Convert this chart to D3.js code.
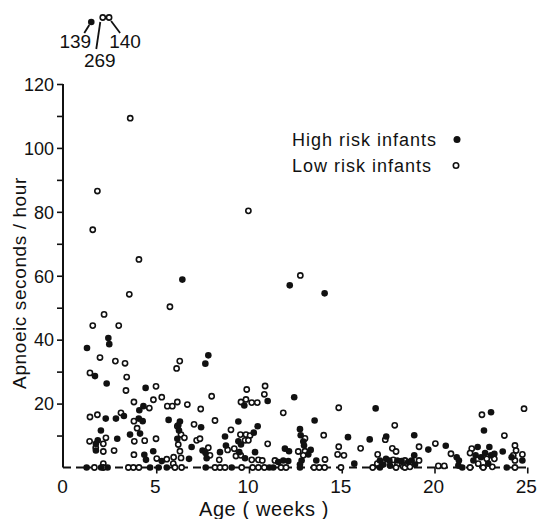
<!DOCTYPE html>
<html><head><meta charset="utf-8">
<script src="https://cdn.jsdelivr.net/npm/d3@7"></script>
<style>
html,body{margin:0;padding:0;background:#fff;}
text{font-family:"Liberation Sans",Arial,sans-serif;fill:#111;}
</style></head>
<body>
<svg id="chart" width="537" height="519"></svg>
<script>
// Age (weeks), apnoeic seconds/hour
const highRisk = [
[6.38,58.8],[12.17,57.0],[14.05,54.5],[2.39,40.5],[2.44,38.6],[1.24,37.4],[7.78,35.1],[7.62,32.5],
[1.67,28.6],[2.30,26.3],[4.40,24.9],[4.28,19.2],[4.06,17.9],[3.23,16.1],[2.25,15.3],[2.80,15.3],[4.03,15.3],[4.24,14.5],[5.64,14.9],[1.99,11.6],[4.10,10.6],[3.56,10.3],[1.82,8.5],[1.72,7.4],[2.87,9.0],[6.11,9.0],[1.72,5.3],[4.33,4.0],[4.81,5.1],[4.42,2.4],[5.27,2.0],
[1.22,0],[2.0,0],[2.35,0],[4.64,0],[5.10,0],[5.54,0],
[12.41,22.0],[9.72,19.4],[10.98,20.8],[9.40,14.4],[6.25,14.4],[6.16,13.2],[7.39,12.6],[10.44,12.9],[6.20,11.6],[10.23,10.9],[8.68,9.7],[9.40,8.2],[6.88,6.4],[8.73,6.9],[9.54,7.2],[11.91,5.9],[12.13,5.1],[7.47,5.3],[7.63,4.5],[8.41,4.8],[9.45,4.8],[10.30,4.8],[7.69,2.9],[6.74,2.7],[9.76,2.9],[11.55,1.7],[11.82,2.2],[12.09,2.0],
[7.64,0],[9.04,0],[11.07,0],[11.28,0],
[16.80,18.5],[13.51,14.7],[12.72,12.0],[12.76,10.1],[15.31,9.5],[17.37,9.7],[16.48,8.8],[12.90,8.1],[12.94,6.9],[13.30,5.5],[13.17,4.1],[13.60,2.2],[12.81,2.2],[12.72,0.9],[15.65,1.2],[17.03,2.2],[17.36,2.7],[17.54,2.2],[17.97,2.2],[18.2,2.0],[17.21,0.9],[17.57,0.6],[18.56,1.7],
[12.72,0],[17.03,0],
[23.02,17.3],[22.64,11.6],[18.88,10.1],[20.58,6.8],[19.64,5.6],[21.17,3.2],[21.29,2.2],[21.26,0.6],[23.65,5.0],[24.13,3.2],[24.71,2.2],[22.30,6.4],[22.93,6.4],[22.19,3.8],[22.48,3.2],[22.70,4.5],[23.02,3.8],[23.20,4.3],[22.07,2.2],[22.87,1.2],[18.88,3.8],[18.74,2.2],[18.92,0.9],
[21.47,0],[23.87,0]
];
const lowRisk = [
[3.57,109.3],[1.8,86.5],[1.55,74.4],[4.04,65.1],[3.52,54.2],[5.71,50.3],[2.16,47.9],[1.55,44.4],[2.95,44.4],[1.94,34.4],[2.77,33.3],[3.29,32.6],[6.24,33.3],[6.07,31.0],[12.74,60.1],[9.94,80.3],[10.84,25.5],[9.85,24.4],
[1.40,29.6],[3.38,28.3],[3.34,24.1],[4.96,25.4],[3.77,20.5],[4.82,21.2],[5.27,22.0],[4.60,18.6],[5.57,19.2],[5.84,19.2],[6.11,20.5],[3.07,17.1],[1.40,15.8],[1.80,16.5],[3.77,14.5],[6.11,12.9],[3.94,12.3],[1.38,8.2],[2.26,9.3],[2.12,7.4],[3.79,8.2],[4.35,8.4],[4.96,9.0],[1.71,6.2],[2.12,5.0],[2.70,5.3],[3.77,4.0],[5.0,2.8],[5.54,2.6],[5.91,3.2],[2.12,1.2],[5.89,1.2],
[1.64,0],[2.12,0],[3.47,0],[3.74,0],[4.04,0],[5.98,0],
[10.80,22.9],[7.96,22.3],[6.65,19.7],[7.37,18.3],[9.54,20.5],[9.81,21.3],[10.12,20.3],[10.42,20.3],[11.82,17.1],[8.14,14.7],[7.01,13.5],[6.31,10.3],[9.0,11.8],[9.51,10.3],[9.81,10.3],[10.03,10.0],[6.49,9.3],[7.15,8.5],[7.33,9.0],[9.76,8.5],[9.94,8.5],[10.98,7.4],[7.78,6.2],[8.82,5.5],[9.18,5.9],[6.16,7.2],[6.25,5.1],[7.87,3.8],[8.37,2.4],[6.31,3.0],[9.27,3.6],[9.53,3.8],[10.12,2.4],[10.48,2.4],[10.69,2.2],[11.37,2.2],
[6.34,0],[8.14,0],[8.41,0],[8.68,0],[9.58,0],[10.17,0],[10.48,0],[10.80,0],[11.70,0],[11.97,0],
[14.81,18.7],[14.0,10.1],[17.83,13.2],[17.32,8.7],[12.99,9.1],[14.81,6.5],[12.63,5.0],[12.99,5.1],[12.90,3.8],[15.99,6.0],[14.75,4.1],[15.09,3.8],[17.70,6.0],[17.90,5.0],[16.91,4.1],[14.07,2.5],[17.75,2.4],[18.38,2.2],[16.89,1.2],[17.97,0.9],[18.29,0.3],
[13.48,0],[13.76,0],[14.05,0],[14.93,0],[16.64,0],[17.9,0],[18.38,0],
[24.80,18.4],[22.53,16.5],[23.74,10.0],[20.02,7.5],[19.14,6.5],[20.86,4.3],[24.31,6.9],[24.37,5.3],[24.22,3.8],[24.71,4.1],[24.31,2.2],[21.98,5.9],[21.89,4.5],[22.79,2.7],[23.20,2.7],[22.33,1.2],[23.09,0.2],[19.14,2.2],[18.52,1.2],[18.65,0.2],
[20.18,0.5],[20.50,0.5],[21.89,0],[22.6,0],[24.31,0]
];
// off-scale values shown above the chart
const offScale = [
  {x:1.47, value:139, risk:"high"},
  {x:2.09, value:269, risk:"low"},
  {x:2.43, value:140, risk:"low"}
];
const xTicks = [0,5,10,15,20,25];
const yTicks = [10,20,30,40,50,60,70,80,90,100,110,120];
const yLabels = [20,40,60,80,100,120];
const legendItems = [{label:"High risk infants", risk:"high"},{label:"Low risk infants", risk:"low"}];

const svg = d3.select("#chart");
const x = d3.scaleLinear().domain([0,25]).range([64,527.75]);
const y = d3.scaleLinear().domain([0,120]).range([467.5,84]);
const ink = "#111";
const openR = 2.6, openW = 1.6, fillR = 3.3;

// y axis
const yAxis = d3.axisLeft(y).tickValues(yTicks).tickSize(6).tickSizeOuter(0)
  .tickFormat(d => yLabels.includes(d) ? d : "");
const ga = svg.append("g").attr("transform","translate(63,0)").call(yAxis);
ga.select(".domain").attr("stroke",ink).attr("stroke-width",2).attr("d","M0,"+y(0)+"V"+y(120));
ga.selectAll(".tick line").attr("stroke",ink).attr("stroke-width",1.6);
ga.selectAll(".tick text").attr("font-size",18).attr("x",-9).attr("dy","0.35em")
  .style("font-family","'Liberation Sans',Arial,sans-serif").attr("fill",ink);

// x axis: dashed baseline at zero
svg.append("line").attr("x1",63).attr("x2",x(25)).attr("y1",y(0)).attr("y2",y(0))
  .attr("stroke",ink).attr("stroke-width",2).attr("stroke-dasharray","8,5");
const gx = svg.append("g");
gx.selectAll("line").data(xTicks.filter(d=>d>0)).join("line")
  .attr("x1",d=>x(d)).attr("x2",d=>x(d)).attr("y1",y(0)).attr("y2",y(0)+6)
  .attr("stroke",ink).attr("stroke-width",1.6);
gx.selectAll("text").data(xTicks).join("text")
  .attr("x",d=>x(d)-1.5).attr("y",y(0)+25).attr("text-anchor","middle").attr("font-size",19)
  .text(d=>d);

// points
svg.append("g").selectAll("circle").data(lowRisk).join("circle")
  .attr("cx",d=>x(d[0])).attr("cy",d=>y(d[1])).attr("r",openR)
  .attr("fill","#fff").attr("stroke",ink).attr("stroke-width",openW);
svg.append("g").selectAll("circle").data(highRisk).join("circle")
  .attr("cx",d=>x(d[0])).attr("cy",d=>y(d[1])).attr("r",fillR)
  .attr("fill",ink);

// off-scale annotations
const topY = {high:22, low:17.5};
const og = svg.append("g");
offScale.forEach(o => {
  const cx = x(o.x), cy = topY[o.risk];
  if (o.risk==="high") og.append("circle").attr("cx",cx).attr("cy",cy).attr("r",fillR).attr("fill",ink);
  else og.append("circle").attr("cx",cx).attr("cy",cy).attr("r",openR).attr("fill","#fff").attr("stroke",ink).attr("stroke-width",openW);
});
const lead = [
  {from:[x(offScale[0].x)-2,25],to:[x(offScale[0].x)-7,33], lx:x(offScale[0].x)-16, ly:48},
  {from:[x(offScale[1].x)-2.5,22],to:[x(offScale[1].x)-6.5,49], lx:x(offScale[1].x)-3, ly:67},
  {from:[x(offScale[2].x)+2,21],to:[x(offScale[2].x)+11,33], lx:x(offScale[2].x)+16, ly:48}
];
lead.forEach((l,i) => {
  og.append("line").attr("x1",l.from[0]).attr("y1",l.from[1]).attr("x2",l.to[0]).attr("y2",l.to[1])
    .attr("stroke",ink).attr("stroke-width",1.8);
  og.append("text").attr("x",l.lx).attr("y",l.ly).attr("text-anchor","middle").attr("font-size",19)
    .text(offScale[i].value);
});

// legend
const lg = svg.append("g");
legendItems.forEach((it,i) => {
  const by = 146 + i*26;
  lg.append("text").attr("x",292).attr("y",by).attr("font-size",18).attr("letter-spacing",1)
    .text(it.label);
  if (it.risk==="high") lg.append("circle").attr("cx",457).attr("cy",by-6.5).attr("r",3.5).attr("fill",ink);
  else lg.append("circle").attr("cx",456).attr("cy",by-6.5).attr("r",2.7).attr("fill","#fff").attr("stroke",ink).attr("stroke-width",1.6);
});

// axis titles
svg.append("text").attr("transform","translate(26,283) rotate(-90)").attr("text-anchor","middle")
  .attr("font-size",19).attr("letter-spacing",0.6).text("Apnoeic seconds / hour");
svg.append("text").attr("x",264).attr("y",516).attr("text-anchor","middle")
  .attr("font-size",20).attr("letter-spacing",0.6).text("Age ( weeks )");
</script>
</body></html>
